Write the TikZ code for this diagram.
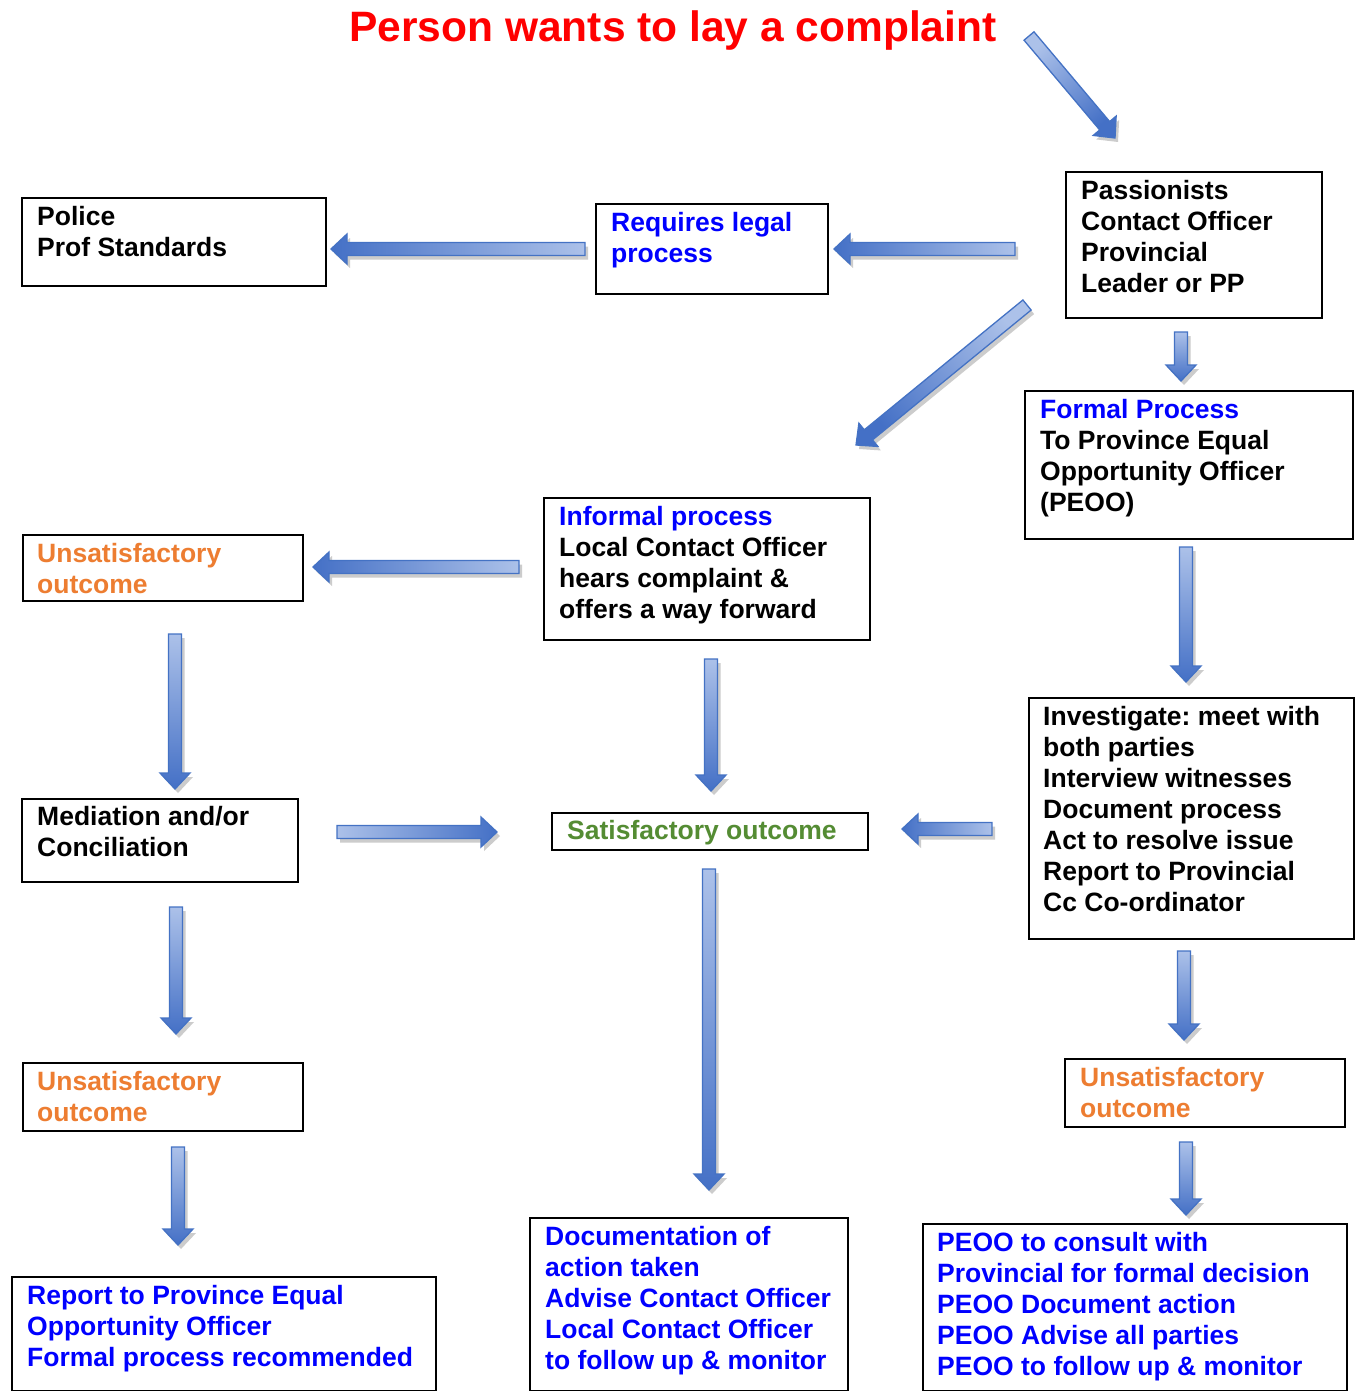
\documentclass[tikz,border=0pt]{standalone}
\usepackage{fontspec}
\setmainfont{Liberation Sans}
\usetikzlibrary{calc}
\frenchspacing
\definecolor{arrlight}{RGB}{172,193,233}
\definecolor{arrdark}{RGB}{68,112,198}
\definecolor{arrline}{RGB}{68,114,196}
\definecolor{tblue}{RGB}{0,0,255}
\definecolor{torange}{RGB}{237,125,49}
\definecolor{tgreen}{RGB}{84,140,51}
\definecolor{tred}{RGB}{255,0,0}
\newcommand\blockarr[2]{%
  \pgfpointdiff{\pgfpointanchor{#1}{center}}{\pgfpointanchor{#2}{center}}%
  \pgfgetlastxy{\bdx}{\bdy}%
  \pgfmathsetmacro\bang{atan2(\bdy,\bdx)}%
  \pgfmathsetmacro\blen{veclen(\bdx,\bdy)}%
  \pgfmathsetmacro\bshang{\bang+90}%
  \begin{scope}[shift={($(#1)+(3,-4)$)},rotate=\bang]
    \fill[black!20] (0,-6.5) -- (\blen-16,-6.5) -- (\blen-16,-15) -- (\blen,0) -- (\blen-16,15) -- (\blen-16,6.5) -- (0,6.5) -- cycle;
  \end{scope}
  \begin{scope}[shift={(#1)},rotate=\bang]
    \shade[top color=arrlight,bottom color=arrdark,shading angle=\bshang,draw=arrline,line width=1.3pt,line join=miter] (0,-6.5) -- (\blen-16,-6.5) -- (\blen-16,-15) -- (\blen,0) -- (\blen-16,15) -- (\blen-16,6.5) -- (0,6.5) -- cycle;
  \end{scope}}
\tikzset{
  box/.style={draw=black,line width=2pt,fill=white,anchor=north west,inner sep=0pt},
  txt/.style={anchor=north west,inner sep=0pt,align=left,font=\fontsize{26.5}{30.9}\selectfont\bfseries\frenchspacing},
}
\begin{document}
\begin{tikzpicture}[x=1pt,y=1pt]
\useasboundingbox[fill=white] (0,0) rectangle (1362,-1391);
% title
\node[font=\fontsize{42.5}{50}\selectfont\bfseries,text=tred,anchor=base,inner sep=0pt] (title) at (673,-42) {Person wants to lay a complaint};
% boxes
\node[box,minimum width=304,minimum height=88] (police) at (21,-197) {};
\node[box,minimum width=232,minimum height=90] (legal) at (595,-203) {};
\node[box,minimum width=256,minimum height=146] (pass) at (1065,-171) {};
\node[box,minimum width=328,minimum height=148] (formal) at (1024,-390) {};
\node[box,minimum width=326,minimum height=142] (inf) at (543,-497) {};
\node[box,minimum width=280,minimum height=66] (uns1) at (22,-534) {};
\node[box,minimum width=276,minimum height=83] (med) at (21,-798) {};
\node[box,minimum width=316,minimum height=37] (sat) at (551,-812) {};
\node[box,minimum width=325,minimum height=241] (inv) at (1028,-697) {};
\node[box,minimum width=280,minimum height=68] (uns2) at (22,-1062) {};
\node[box,minimum width=280,minimum height=68] (uns3) at (1064,-1058) {};
\node[box,minimum width=424,minimum height=114] (rep) at (11,-1276) {};
\node[box,minimum width=318,minimum height=173] (doc) at (529,-1217) {};
\node[box,minimum width=424,minimum height=167] (peoo) at (922,-1223) {};
% texts
\node[txt] (police-t) at (37,-204) {\strut Police\\Prof Standards};
\node[txt,text=tblue] (legal-t) at (611,-210) {\strut Requires legal\\process};
\node[txt] (pass-t) at (1081,-178) {\strut Passionists\\Contact Officer\\Provincial\\Leader or PP};
\node[txt] (formal-t) at (1040,-397) {\strut\textcolor{tblue}{Formal Process}\\To Province Equal\\Opportunity Officer\\(PEOO)};
\node[txt] (inf-t) at (559,-504) {\strut\textcolor{tblue}{Informal process}\\Local Contact Officer\\hears complaint \&\\offers a way forward};
\node[txt,text=torange] (uns1-t) at (37,-541) {\strut Unsatisfactory\\outcome};
\node[txt] (med-t) at (37,-804) {\strut Mediation and/or\\Conciliation};
\node[txt,text=tgreen] (sat-t) at (567,-818) {\strut Satisfactory outcome};
\node[txt] (inv-t) at (1043,-704) {\strut Investigate: meet with\\both parties\\Interview witnesses\\Document process\\Act to resolve issue\\Report to Provincial\\Cc Co-ordinator};
\node[txt,text=torange] (uns2-t) at (37,-1069) {\strut Unsatisfactory\\outcome};
\node[txt,text=torange] (uns3-t) at (1080,-1065) {\strut Unsatisfactory\\outcome};
\node[txt,text=tblue] (rep-t) at (27,-1283) {\strut Report to Province Equal\\Opportunity Officer\\Formal process recommended};
\node[txt,text=tblue] (doc-t) at (545,-1224) {\strut Documentation of\\action taken\\Advise Contact Officer\\Local Contact Officer\\to follow up \& monitor};
\node[txt,text=tblue] (peoo-t) at (937,-1230) {\strut PEOO to consult with\\Provincial for formal decision\\PEOO Document action\\PEOO Advise all parties\\PEOO to follow up \& monitor};
% arrow end points
\coordinate (a1s) at (1029,-36);   \coordinate (a1e) at (1115,-138);
\coordinate (a2s) at (1015,-249);  \coordinate (a2e) at (834,-249);
\coordinate (a3s) at (585,-249);   \coordinate (a3e) at (331,-249);
\coordinate (a4s) at (1027,-305);  \coordinate (a4e) at (856,-445);
\coordinate (a5s) at (1181,-332);  \coordinate (a5e) at (1181,-381);
\coordinate (a6s) at (1186,-547);  \coordinate (a6e) at (1186,-682);
\coordinate (a7s) at (519,-567);   \coordinate (a7e) at (313,-567);
\coordinate (a8s) at (175,-634);   \coordinate (a8e) at (175,-789);
\coordinate (a9s) at (711,-659);   \coordinate (a9e) at (711,-791);
\coordinate (a10s) at (337,-832);  \coordinate (a10e) at (497,-832);
\coordinate (a11s) at (992,-829);  \coordinate (a11e) at (902,-829);
\coordinate (a12s) at (176,-907);  \coordinate (a12e) at (176,-1034);
\coordinate (a13s) at (709,-869);  \coordinate (a13e) at (709,-1190);
\coordinate (a14s) at (1184,-951); \coordinate (a14e) at (1184,-1040);
\coordinate (a15s) at (178,-1147); \coordinate (a15e) at (178,-1245);
\coordinate (a16s) at (1186,-1142);\coordinate (a16e) at (1186,-1215);
\blockarr{a1s}{a1e}
\blockarr{a2s}{a2e}
\blockarr{a3s}{a3e}
\blockarr{a4s}{a4e}
\blockarr{a5s}{a5e}
\blockarr{a6s}{a6e}
\blockarr{a7s}{a7e}
\blockarr{a8s}{a8e}
\blockarr{a9s}{a9e}
\blockarr{a10s}{a10e}
\blockarr{a11s}{a11e}
\blockarr{a12s}{a12e}
\blockarr{a13s}{a13e}
\blockarr{a14s}{a14e}
\blockarr{a15s}{a15e}
\blockarr{a16s}{a16e}
\end{tikzpicture}
\end{document}
